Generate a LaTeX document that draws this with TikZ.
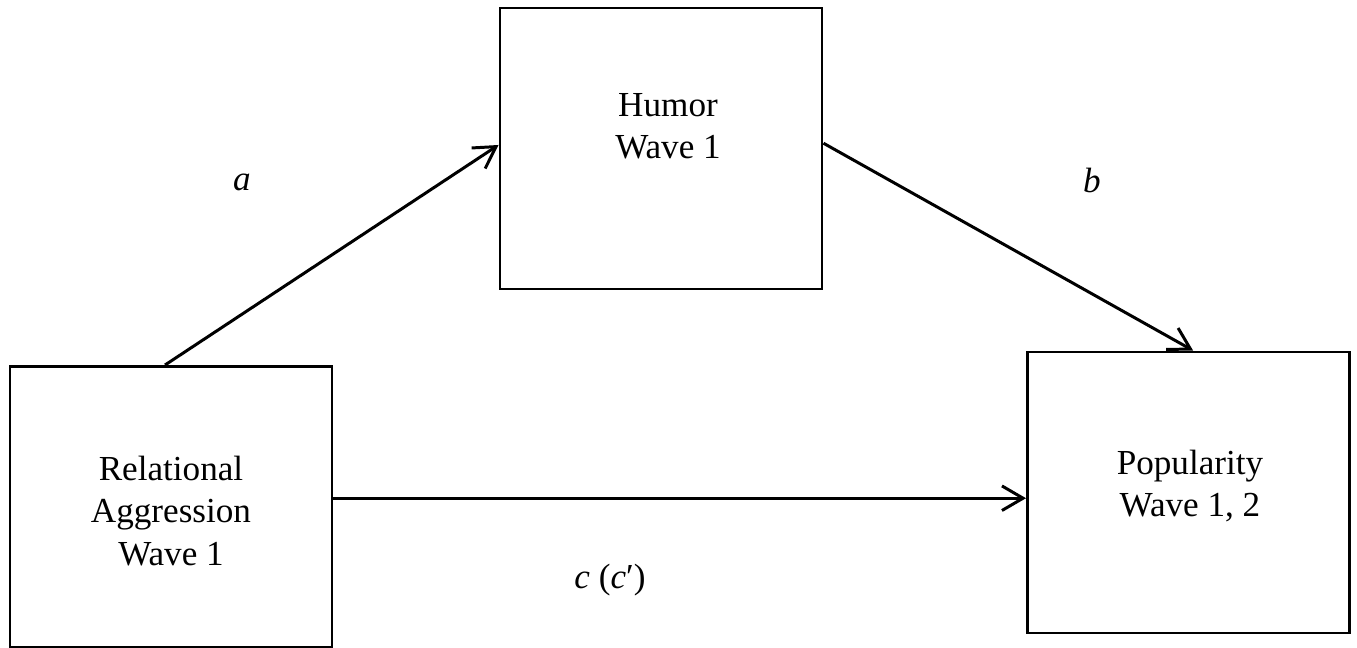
\documentclass[tikz,border=0pt]{standalone}
\usepackage{fontspec}
\setmainfont{Liberation Serif}
\usetikzlibrary{arrows.meta}
\tikzstyle{vbox}=[rectangle,draw=black,line width=1.7pt,minimum width=322*0.02cm,minimum height=281*0.02cm]
\tikzstyle{vtext}=[align=center,font=\fontsize{20}{24}\selectfont]
\tikzstyle{path}=[->, line width=1.7pt]

\begin{document}
\begin{tikzpicture}[x=0.02cm,y=-0.02cm,>={Straight Barb[length=12pt,width=14pt]}]
\useasboundingbox (0,0) rectangle (1357,648);
\node[vbox] (RA) at (171,507) {};
\node[vbox] (HU) at (661,148.5) {};
\node[vbox] (PO) at (1188.5,492.5) {};
\node[vtext] (RAt) at (171,511) {Relational\\Aggression\\Wave 1};
\node[vtext] (HUt) at (668,126) {Humor\\Wave 1};
\node[vtext] (POt) at (1190,486) {Popularity\\Wave 1, 2};
\node[vtext] (a) at (242,182) {\textit{a}};
\node[vtext] (b) at (1092,180) {\textit{b}};
\node[vtext] (c) at (610,580) {\textit{c} (\textit{c}′)};
\draw[path]([xshift=-3.4pt]RA.north)--([yshift=2pt]HU.west);
\draw[path]([yshift=3pt]HU.east)--([xshift=2.6pt]PO.north);
\draw[path]([yshift=5pt]RA.east)--([yshift=5pt]RA.east -| PO.west);
\end{tikzpicture}
\end{document}
